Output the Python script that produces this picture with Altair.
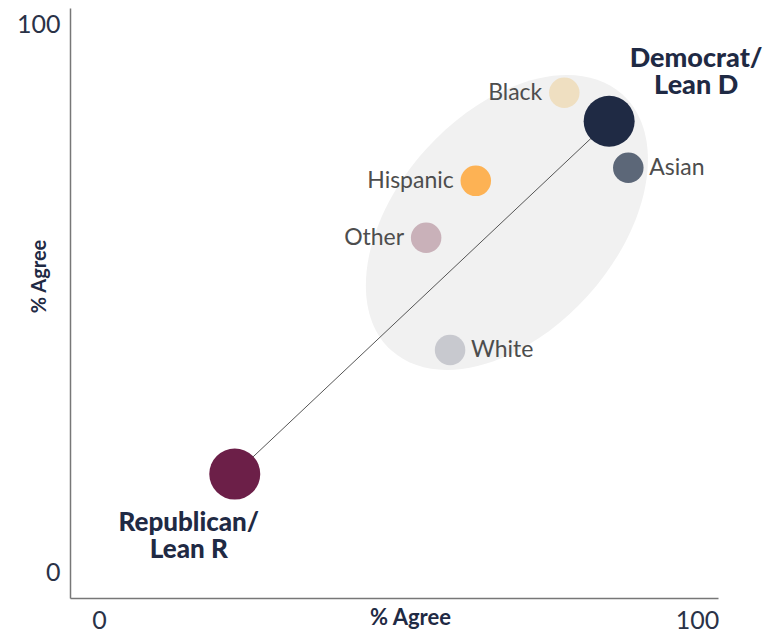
import altair as alt
import pandas as pd

# ---- data ----
parties = ["Republican/Lean R", "Democrat/Lean D"]
party_x = [22.7, 85.3]
party_y = [17.9, 82.4]

races = ["Black", "Asian", "Hispanic", "Other", "White"]
race_x = [77.8, 88.5, 63.0, 54.7, 58.7]
race_y = [87.6, 73.9, 71.5, 61.1, 40.6]

# highlighted cluster (ellipse) centre
cluster_x = [68.2]
cluster_y = [63.9]

axis_ticks = [0, 100]

# ---- styles ----
party_colors = ["#6c1f48", "#1f2a44"]
race_colors = ["#efdfc1", "#5c6778", "#fdb254", "#c9b1b9", "#c8c9cf"]
NAVY = "#1f2a44"
FONT = "Lato"

party_df = pd.DataFrame({"group": parties, "x": party_x, "y": party_y})
party_df["label"] = party_df["group"].str.replace("/", "/\n")
race_df = pd.DataFrame({"group": races, "x": race_x, "y": race_y})
cluster_df = pd.DataFrame({"x": cluster_x, "y": cluster_y})

xscale = alt.Scale(domain=[-4.85, 103.5], nice=False, zero=False)
yscale = alt.Scale(domain=[-4.75, 103.1], nice=False, zero=False)
color_scale = alt.Scale(domain=parties + races, range=party_colors + race_colors)

x_enc = alt.X("x:Q", scale=xscale, axis=alt.Axis(
    values=axis_ticks, ticks=False, grid=False, title="% Agree",
    domainColor="#777777", domainWidth=1.5,
    labelFont=FONT, labelFontSize=25, labelColor="#2a3247", labelPadding=10,
    titleFont=FONT, titleFontSize=22, titleFontWeight="bold", titleColor=NAVY,
    titleX=340, titleY=19, titleBaseline="middle", titleAnchor="middle", titleAlign="center"))
y_enc = alt.Y("y:Q", scale=yscale, axis=alt.Axis(
    values=axis_ticks, ticks=False, grid=False, title="% Agree",
    domainColor="#777777", domainWidth=1.5,
    labelFont=FONT, labelFontSize=25, labelColor="#2a3247", labelPadding=10,
    titleFont=FONT, titleFontSize=20, titleFontWeight="bold", titleColor=NAVY,
    titleX=-31, titleY=268, titleAngle=270, titleBaseline="middle", titleAlign="center"))

# ellipse shape (unit ellipse, rx=1, ry=0.633) drawn with cubic curves
k = 0.5523
r = 0.633
kr = round(k * r, 4)
ellipse_path = (f"M -1 0 C -1 -{kr} -{k} -{r} 0 -{r} C {k} -{r} 1 -{kr} 1 0 "
                f"C 1 {kr} {k} {r} 0 {r} C -{k} {r} -1 {kr} -1 0 Z")

ellipse = alt.Chart(cluster_df).mark_point(
    shape=ellipse_path, filled=True, fill="#f1f1f1", opacity=1,
    strokeWidth=0, size=118900, angle=312
).encode(x=x_enc, y=y_enc)

line = alt.Chart(party_df).mark_line(color="#555555", strokeWidth=1).encode(
    x=alt.X("x:Q", scale=xscale), y=alt.Y("y:Q", scale=yscale))

party_pts = alt.Chart(party_df).mark_circle(size=2600, opacity=1).encode(
    x=alt.X("x:Q", scale=xscale), y=alt.Y("y:Q", scale=yscale),
    color=alt.Color("group:N", scale=color_scale, legend=None))

race_pts = alt.Chart(race_df).mark_circle(size=930, opacity=1).encode(
    x=alt.X("x:Q", scale=xscale), y=alt.Y("y:Q", scale=yscale),
    color=alt.Color("group:N", scale=color_scale, legend=None))

text_common = dict(font=FONT, fontSize=23, color="#4d4d4d", baseline="middle")
race_right = alt.Chart(race_df).transform_filter(
    alt.FieldOneOfPredicate(field="group", oneOf=["Asian", "White"])
).mark_text(align="left", dx=21, **text_common).encode(
    x=alt.X("x:Q", scale=xscale), y=alt.Y("y:Q", scale=yscale), text="group:N")
race_left = alt.Chart(race_df).transform_filter(
    alt.FieldOneOfPredicate(field="group", oneOf=["Black", "Hispanic", "Other"])
).mark_text(align="right", dx=-22, **text_common).encode(
    x=alt.X("x:Q", scale=xscale), y=alt.Y("y:Q", scale=yscale), text="group:N")

party_text_common = dict(font=FONT, fontWeight=900, color=NAVY,
                         align="center", baseline="middle", lineBreak="\n", lineHeight=27)
dem_label = alt.Chart(party_df).transform_filter(
    alt.datum.group == "Democrat/Lean D"
).mark_text(dx=87, dy=-62, fontSize=27, **party_text_common).encode(
    x=alt.X("x:Q", scale=xscale), y=alt.Y("y:Q", scale=yscale), text="label:N")
rep_label = alt.Chart(party_df).transform_filter(
    alt.datum.group == "Republican/Lean R"
).mark_text(dx=-46, dy=49, fontSize=26, **party_text_common).encode(
    x=alt.X("x:Q", scale=xscale), y=alt.Y("y:Q", scale=yscale), text="label:N")

chart = alt.layer(
    ellipse, line, party_pts, race_pts, race_right, race_left, dem_label, rep_label
).properties(
    width=648, height=590,
    background="white",
    autosize=alt.AutoSizeParams(type="none"),
    padding={"left": 62, "top": 0, "right": 56, "bottom": 34},
).configure_view(stroke="transparent", strokeWidth=0)

chart.save("out.html", embed_options={"renderer": "svg", "actions": False})
